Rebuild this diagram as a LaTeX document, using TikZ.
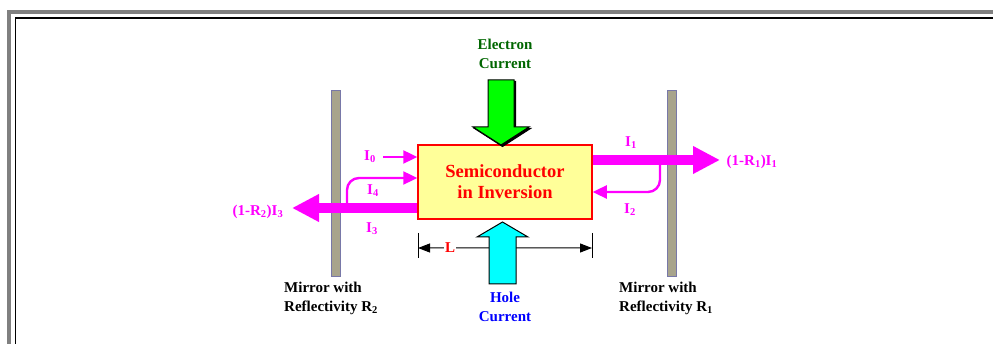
\documentclass[tikz,border=0pt]{standalone}
\usepackage{fontspec}
\setmainfont{Liberation Serif}
\usepackage{xcolor}
\usetikzlibrary{arrows.meta, positioning, calc}

\definecolor{mirrorfill}{HTML}{A8A48C}
\definecolor{mirrordraw}{HTML}{7878A8}
\definecolor{boxfill}{HTML}{FFFF99}
\definecolor{elecgreen}{HTML}{006600}
\definecolor{beammag}{RGB}{255,0,255}
\definecolor{holecyan}{RGB}{0,255,255}
\definecolor{elecfill}{RGB}{0,255,0}

\begin{document}
\begin{tikzpicture}[x=1pt, y=-1pt,
  mirrorbar/.style={draw=mirrordraw, fill=mirrorfill, line width=1pt, minimum width=9pt, minimum height=186pt, inner sep=0pt},
  txt/.style={font=\fontsize{15}{19}\selectfont\bfseries, inner sep=1pt},
  beam/.style={beammag, line width=10.5pt, -{Triangle[length=27pt, width=26pt]}},
  ray/.style={beammag, line width=2.4pt, -{Triangle[length=14pt, width=13pt]}},
  dimline/.style={line width=1pt, -{Triangle[length=12pt, width=9pt]}},
  blockarrow/.style={draw=black, line width=1pt},
]
\useasboundingbox (0,0) rectangle (993,344);

% Rahmen
\draw[gray, line width=4pt] (9,12) rectangle (1020,370);
\draw[black, line width=1.2pt] (15.5,18) rectangle (1020,370);

% Spiegel
\node[mirrorbar] (mirror2) at (336,183.5) {};
\node[mirrorbar] (mirror1) at (672,183.5) {};
\node[txt, align=left, anchor=north west] (m2text) at (283,281) {Mirror with\\Reflectivity R\textsubscript{2}};
\node[txt, align=left, anchor=north west] (m1text) at (618,281) {Mirror with\\Reflectivity R\textsubscript{1}};

% Halbleiter
\node[draw=red, line width=1.5pt, fill=boxfill, minimum width=174pt, minimum height=74pt,
  text=red, align=center, font=\fontsize{18.5}{21}\selectfont\bfseries] (semi) at (505,182) {Semiconductor\\in Inversion};

% Elektronenstrom
\node[txt, text=elecgreen, align=center] (electron) at (505,54) {Electron\\Current};
\draw[blockarrow, fill=black] (489.5,81.5) -- (515.5,81.5) -- (515.5,128.5) -- (530.5,128.5) -- (502.5,146.5) -- (474.5,128.5) -- (489.5,128.5) -- cycle;
\draw[blockarrow, fill=elecfill] (488,80) -- (514,80) -- (514,127) -- (529,127) -- (501,145) -- (473,127) -- (488,127) -- cycle;

% Laenge L
\coordinate (ltop) at (418,233);
\coordinate (lbot) at (418,258);
\coordinate (rtop) at (592,233);
\coordinate (rbot) at (592,258);
\draw[line width=1pt] (ltop) -- (lbot);
\draw[line width=1pt] (rtop) -- (rbot);
\node[txt, text=red] (Lmark) at (450,248) {L};
\draw[dimline] (Lmark) -- ($(ltop)!0.6!(lbot)$);
\draw[dimline] (Lmark) -- ($(rtop)!0.6!(rbot)$);

% Loecherstrom
\draw[blockarrow, fill=holecyan] (489,284) -- (516,284) -- (516,237) -- (528,237) -- (502.5,222) -- (477,237) -- (489,237) -- cycle;
\node[txt, text=blue, align=center] (hole) at (505,307) {Hole\\Current};

% Strahlen
\coordinate (out1) at (720,160);
\coordinate (out2) at (292,208);
\coordinate (in0) at (383,157);
\draw[beam] (semi.east |- out1) -- (out1);
\draw[beam] (semi.west |- out2) -- (out2);
\draw[ray] (in0) -- (semi.west |- in0);
\draw[ray, rounded corners=12pt] (347,206) |- (semi.west |- 0,178);
\draw[ray, rounded corners=12pt] (660,163) |- (semi.east |- 0,192);

% Beschriftung
\node[txt, text=beammag] (i0) at (370,157) {I\textsubscript{0}};
\node[txt, text=beammag] (i4) at (373,191) {I\textsubscript{4}};
\node[txt, text=beammag] (i3) at (372,229) {I\textsubscript{3}};
\node[txt, text=beammag] (i1) at (631,143) {I\textsubscript{1}};
\node[txt, text=beammag] (i2) at (630,210) {I\textsubscript{2}};
\node[txt, text=beammag] (r2) at (258,212) {(1-R\textsubscript{2})I\textsubscript{3}};
\node[txt, text=beammag] (r1) at (752,162) {(1-R\textsubscript{1})I\textsubscript{1}};

\end{tikzpicture}
\end{document}
